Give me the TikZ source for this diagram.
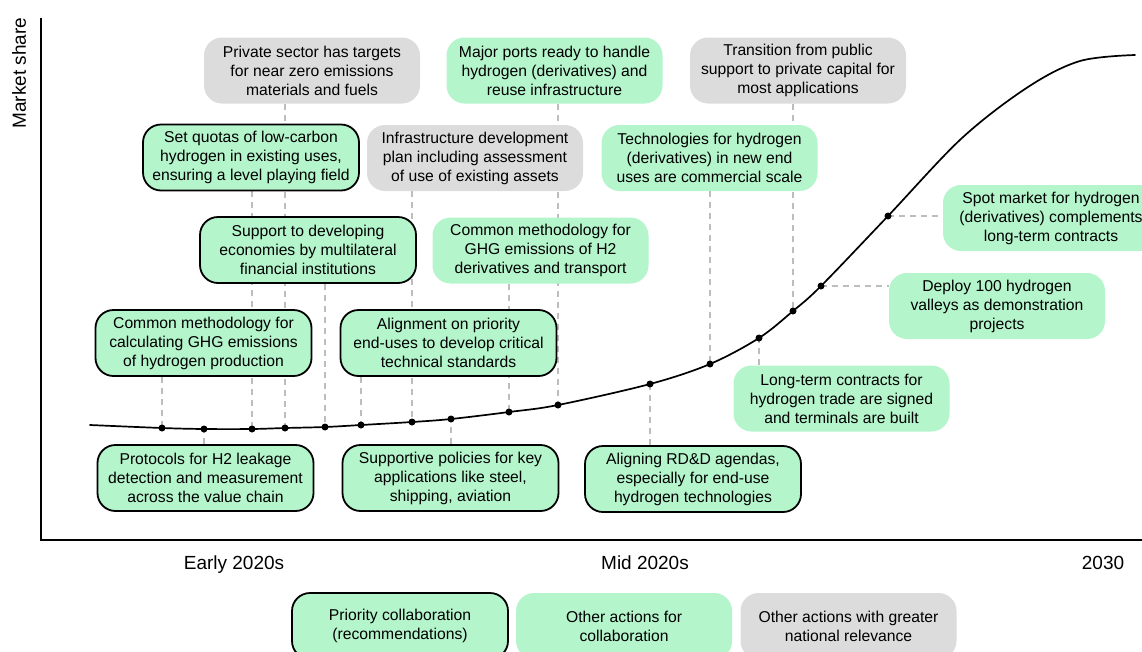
\documentclass[tikz,border=0pt]{standalone}
\usepackage{fontspec}
\setmainfont{Liberation Sans}
\usetikzlibrary{positioning, backgrounds}
\definecolor{mintgreen}{HTML}{B4F5CC}
\definecolor{lightgrey}{HTML}{DCDCDC}
\definecolor{guidegrey}{HTML}{BDBDBD}
\tikzset{
    box/.style={rectangle, rounded corners=18pt, minimum width=216pt, minimum height=66pt, inner sep=2pt, align=center, font=\fontsize{15.7}{19}\selectfont},
    greenbox/.style={box, fill=mintgreen},
    greybox/.style={box, fill=lightgrey},
    prioritybox/.style={box, fill=mintgreen, draw=black, line width=1.8pt},
    guide/.style={draw=guidegrey, line width=1.5pt, dash pattern=on 6pt off 5pt},
    axislabel/.style={font=\fontsize{19}{22}\selectfont},
    curveline/.style={line width=1.7pt, line cap=round}
}

\begin{document}
\begin{tikzpicture}[x=1pt, y=-1pt]
    \useasboundingbox (0,0) rectangle (1142,651);
    % axes
    \coordinate (top) at (41,18);
    \coordinate (origin) at (41,540);
    \coordinate (right) at (1142,540);
    \draw[line width=2pt] (top) -- (origin) -- (right);
    \node[axislabel, rotate=90] (yaxis) at (19,73) {Market share};
    \node[axislabel, anchor=base] (early) at (234,569) {Early 2020s};
    \node[axislabel, anchor=base] (mid) at (645,569) {Mid 2020s};
    \node[axislabel, anchor=base] (late) at (1103,569) {2030};

    % milestones on the curve
    \coordinate (p1) at (162,428);
    \coordinate (p2) at (204,429);
    \coordinate (p3) at (252,429);
    \coordinate (p4) at (285,428);
    \coordinate (p5) at (325,427);
    \coordinate (p6) at (361,425);
    \coordinate (p7) at (412,422);
    \coordinate (p8) at (451,419);
    \coordinate (p9) at (509,412);
    \coordinate (p10) at (558,405);
    \coordinate (p11) at (650,384);
    \coordinate (p12) at (710,364);
    \coordinate (p13) at (759,338);
    \coordinate (p14) at (793,311);
    \coordinate (p15) at (821,286);
    \coordinate (p16) at (888,216);
    \draw[curveline] plot[smooth, tension=0.55] coordinates {(90,425) (p1) (p2) (p3) (p4) (p5) (p6) (p7) (p8) (p9) (p10) (p11) (p12) (p13) (p14) (p15) (p16) (962,138) (1028,87) (1080,61) (1135,55)};
    \foreach \i in {1,...,16}
        \fill (p\i) circle (3.5pt);

    % top row
    \node[greybox] (private) at (312,70.5) {Private sector has targets\\for near zero emissions\\materials and fuels};
    \node[greenbox] (ports) at (554.5,70.5) {Major ports ready to handle\\hydrogen (derivatives) and\\reuse infrastructure};
    \node[greybox] (transition) at (798,70.5) {Transition from public\\support to private capital for\\most applications};
    % second row
    \node[prioritybox] (quotas) at (251,157.5) {Set quotas of low-carbon\\hydrogen in existing uses,\\ensuring a level playing field};
    \node[greybox] (infra) at (475,158) {Infrastructure development\\plan including assessment\\of use of existing assets};
    \node[greenbox] (tech) at (709.5,158) {Technologies for hydrogen\\(derivatives) in new end\\uses are commercial scale};
    \node[greenbox] (spot) at (1051,218) {Spot market for hydrogen\\(derivatives) complements\\long-term contracts};
    % third row
    \node[prioritybox] (support) at (308,250) {Support to developing\\economies by multilateral\\financial institutions};
    \node[greenbox] (ghgderiv) at (540.5,250.5) {Common methodology for\\GHG emissions of H2\\derivatives and transport};
    \node[greenbox] (valleys) at (997,306) {Deploy 100 hydrogen\\valleys as demonstration\\projects};
    % fourth row
    \node[prioritybox] (ghgprod) at (203.5,343) {Common methodology for\\calculating GHG emissions\\of hydrogen production};
    \node[prioritybox] (standards) at (448.5,343) {Alignment on priority\\end-uses to develop critical\\technical standards};
    \node[greenbox] (contracts) at (841.5,398.5) {Long-term contracts for\\hydrogen trade are signed\\and terminals are built};
    % below the curve
    \node[prioritybox] (leakage) at (205.5,478) {Protocols for H2 leakage\\detection and measurement\\across the value chain};
    \node[prioritybox] (policies) at (450.5,478) {Supportive policies for key\\applications like steel,\\shipping, aviation};
    \node[prioritybox] (rdd) at (693,479) {Aligning RD\&D agendas,\\especially for end-use\\hydrogen technologies};

    % legend
    \node[prioritybox] (legprio) at (400,626) {Priority collaboration\\(recommendations)};
    \node[greenbox, right=7pt of legprio] (legother) {Other actions for\\collaboration};
    \node[greybox, right=8pt of legother] (legnational) {Other actions with greater\\national relevance};

    % dashed guides
    \begin{scope}[on background layer]
        \draw[guide] (private.south -| p4) -- (p4);
        \draw[guide] (ports.south -| p10) -- (p10);
        \draw[guide] (transition.south -| p14) -- (p14);
        \draw[guide] (quotas.south -| p3) -- (p3);
        \draw[guide] (infra.south -| p7) -- (p7);
        \draw[guide] (tech.south -| p12) -- (p12);
        \draw[guide] (p16) -- (p16 -| spot.west);
        \draw[guide] (support.south -| p5) -- (p5);
        \draw[guide] (ghgderiv.south -| p9) -- (p9);
        \draw[guide] (p15) -- (p15 -| valleys.west);
        \draw[guide] (ghgprod.south -| p1) -- (p1);
        \draw[guide] (standards.south -| p6) -- (p6);
        \draw[guide] (contracts.north -| p13) -- (p13);
        \draw[guide] (leakage.north -| p2) -- (p2);
        \draw[guide] (policies.north -| p8) -- (p8);
        \draw[guide] (rdd.north -| p11) -- (p11);
    \end{scope}
\end{tikzpicture}
\end{document}
